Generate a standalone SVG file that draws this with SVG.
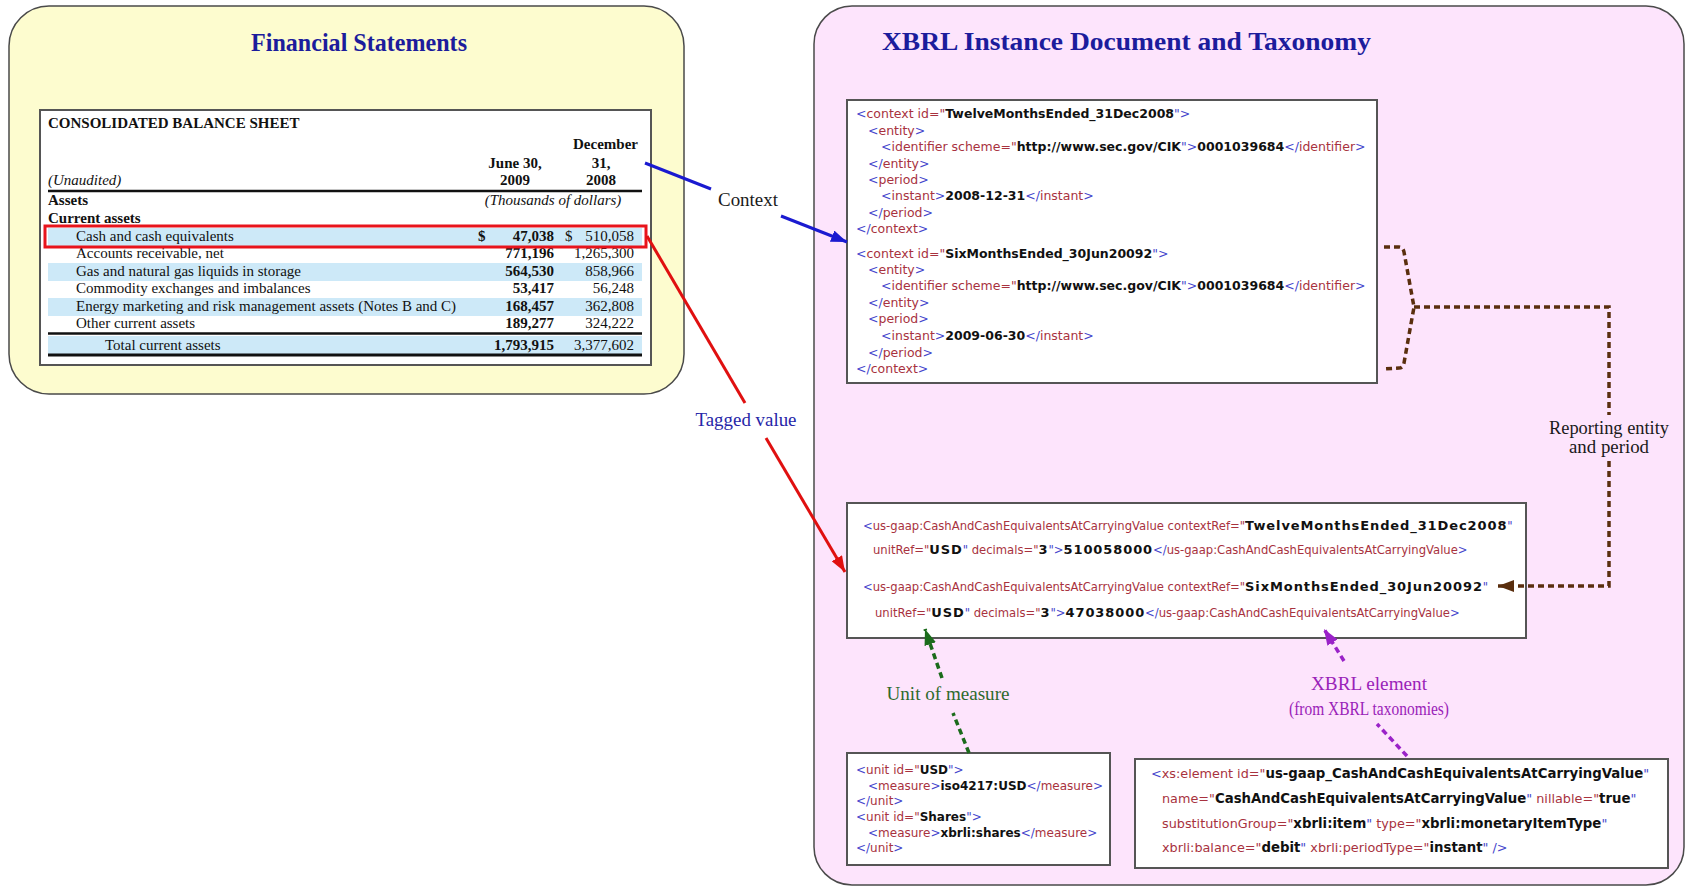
<svg xmlns="http://www.w3.org/2000/svg" width="1690" height="891" viewBox="0 0 1690 891">
  <defs>
    <style>
      .panel { stroke: #4a4a4a; stroke-width: 1.5; }
      .title { font-family: "Liberation Serif", "Times New Roman", serif; font-size: 26px; font-weight: bold; fill: #1c1c9c; }
      .box { fill: #ffffff; stroke: #555555; stroke-width: 2; }
      .tb { font-family: "Liberation Serif", "Times New Roman", serif; font-size: 15px; fill: #111111; }
      .bd { font-weight: bold; }
      .it { font-style: italic; }
      .band { fill: #cde9f8; }
      .rule { stroke: #111111; }
      .code { font-family: "DejaVu Sans", Verdana, sans-serif; font-size: 12.5px; fill: #111111; }
      .fact { font-size: 11.6px; }
      .fact .vl { font-size: 13px; letter-spacing: 0.9px; }
      .elem { font-size: 12.8px; }
      .elem .vl { font-size: 13.3px; }
      .unit { font-size: 12px; }
      .bk { fill: #4545cc; }
      .nm { fill: #a8323e; }
      .vl { fill: #111111; font-weight: bold; }
      .lbl { font-family: "Liberation Serif", "Times New Roman", serif; font-size: 19px; text-anchor: middle; }
      .solid { fill: none; stroke-width: 3; }
      .dash { fill: none; stroke-width: 3.5; stroke-dasharray: 6 4; }
    </style>
    <marker id="arrBlue" viewBox="0 0 16 12" refX="16" refY="6" markerWidth="16" markerHeight="12" markerUnits="userSpaceOnUse" orient="auto">
      <path d="M0,0 L16,6 L0,12 z" fill="#1a1ad0"/>
    </marker>
    <marker id="arrRed" viewBox="0 0 16 12" refX="16" refY="6" markerWidth="16" markerHeight="12" markerUnits="userSpaceOnUse" orient="auto">
      <path d="M0,0 L16,6 L0,12 z" fill="#e01010"/>
    </marker>
    <marker id="arrBrown" viewBox="0 0 16 12" refX="16" refY="6" markerWidth="16" markerHeight="12" markerUnits="userSpaceOnUse" orient="auto">
      <path d="M0,0 L16,6 L0,12 z" fill="#5a2e0e"/>
    </marker>
    <marker id="arrGreen" viewBox="0 0 16 12" refX="16" refY="6" markerWidth="16" markerHeight="12" markerUnits="userSpaceOnUse" orient="auto">
      <path d="M0,0 L16,6 L0,12 z" fill="#1b6b1b"/>
    </marker>
    <marker id="arrPurple" viewBox="0 0 16 12" refX="16" refY="6" markerWidth="16" markerHeight="12" markerUnits="userSpaceOnUse" orient="auto">
      <path d="M0,0 L16,6 L0,12 z" fill="#9a22c8"/>
    </marker>
  </defs>

  <rect width="1690" height="891" fill="#ffffff"/>

  <!-- Financial statements panel -->
  <g id="financial-statements">
    <rect class="panel" x="9" y="6" width="675" height="388" rx="40" fill="#fdfccf"/>
    <text class="title" x="359" y="51" text-anchor="middle" textLength="216" lengthAdjust="spacingAndGlyphs">Financial Statements</text>
  </g>

  <!-- Balance sheet table -->
  <g id="balance-sheet">
    <rect class="box" x="40" y="110" width="611" height="255"/>
    <rect class="band" x="48" y="228" width="594" height="18"/>
    <rect class="band" x="48" y="263" width="594" height="18"/>
    <rect class="band" x="48" y="298" width="594" height="18"/>
    <rect class="band" x="48" y="336" width="594" height="18"/>
    <line class="rule" x1="48" y1="191" x2="642" y2="191" stroke-width="2.5"/>
    <line class="rule" x1="48" y1="333.5" x2="642" y2="333.5" stroke-width="2.5"/>
    <line class="rule" x1="48" y1="355" x2="642" y2="355" stroke-width="3"/>

    <text class="tb bd" x="48" y="128">CONSOLIDATED BALANCE SHEET</text>
    <text class="tb bd" x="638" y="149" text-anchor="end">December</text>
    <text class="tb bd" x="515" y="168" text-anchor="middle">June 30,</text>
    <text class="tb bd" x="601" y="168" text-anchor="middle">31,</text>
    <text class="tb it" x="48" y="185">(Unaudited)</text>
    <text class="tb bd" x="515" y="185" text-anchor="middle">2009</text>
    <text class="tb bd" x="601" y="185" text-anchor="middle">2008</text>
    <text class="tb bd" x="48" y="205">Assets</text>
    <text class="tb it" x="553" y="205" text-anchor="middle">(Thousands of dollars)</text>
    <text class="tb bd" x="48" y="223">Current assets</text>

    <text class="tb" x="76" y="241">Cash and cash equivalents</text>
    <text class="tb bd" x="478" y="241">$</text>
    <text class="tb bd" x="554" y="241" text-anchor="end">47,038</text>
    <text class="tb" x="565" y="241">$</text>
    <text class="tb" x="634" y="241" text-anchor="end">510,058</text>

    <text class="tb" x="76" y="258">Accounts receivable, net</text>
    <text class="tb bd" x="554" y="258" text-anchor="end">771,196</text>
    <text class="tb" x="634" y="258" text-anchor="end">1,265,300</text>

    <text class="tb" x="76" y="276">Gas and natural gas liquids in storage</text>
    <text class="tb bd" x="554" y="276" text-anchor="end">564,530</text>
    <text class="tb" x="634" y="276" text-anchor="end">858,966</text>

    <text class="tb" x="76" y="293">Commodity exchanges and imbalances</text>
    <text class="tb bd" x="554" y="293" text-anchor="end">53,417</text>
    <text class="tb" x="634" y="293" text-anchor="end">56,248</text>

    <text class="tb" x="76" y="311">Energy marketing and risk management assets (Notes B and C)</text>
    <text class="tb bd" x="554" y="311" text-anchor="end">168,457</text>
    <text class="tb" x="634" y="311" text-anchor="end">362,808</text>

    <text class="tb" x="76" y="328">Other current assets</text>
    <text class="tb bd" x="554" y="328" text-anchor="end">189,277</text>
    <text class="tb" x="634" y="328" text-anchor="end">324,222</text>

    <text class="tb" x="105" y="350">Total current assets</text>
    <text class="tb bd" x="554" y="350" text-anchor="end">1,793,915</text>
    <text class="tb" x="634" y="350" text-anchor="end">3,377,602</text>

    <rect x="45" y="226" width="601" height="21" fill="none" stroke="#e8141c" stroke-width="3"/>
  </g>

  <!-- XBRL panel -->
  <g id="xbrl-panel">
    <rect class="panel" x="814" y="6" width="870" height="879" rx="38" fill="#fde4fc"/>
    <text class="title" x="882" y="50" textLength="489" lengthAdjust="spacingAndGlyphs">XBRL Instance Document and Taxonomy</text>
  </g>

  <!-- Context definitions -->
  <g id="contexts">
    <rect class="box" x="847" y="100" width="530" height="283"/>
    <text class="code" x="856" y="118"><tspan class="bk">&lt;</tspan><tspan class="nm">context id="</tspan><tspan class="vl">TwelveMonthsEnded_31Dec2008</tspan><tspan class="bk">"&gt;</tspan></text>
    <text class="code" x="868" y="135"><tspan class="bk">&lt;</tspan><tspan class="nm">entity</tspan><tspan class="bk">&gt;</tspan></text>
    <text class="code" x="881" y="151"><tspan class="bk">&lt;</tspan><tspan class="nm">identifier scheme="</tspan><tspan class="vl">http://www.sec.gov/CIK</tspan><tspan class="bk">"&gt;</tspan><tspan class="vl">0001039684</tspan><tspan class="bk">&lt;/</tspan><tspan class="nm">identifier</tspan><tspan class="bk">&gt;</tspan></text>
    <text class="code" x="868" y="168"><tspan class="bk">&lt;/</tspan><tspan class="nm">entity</tspan><tspan class="bk">&gt;</tspan></text>
    <text class="code" x="868" y="184"><tspan class="bk">&lt;</tspan><tspan class="nm">period</tspan><tspan class="bk">&gt;</tspan></text>
    <text class="code" x="881" y="200"><tspan class="bk">&lt;</tspan><tspan class="nm">instant</tspan><tspan class="bk">&gt;</tspan><tspan class="vl">2008-12-31</tspan><tspan class="bk">&lt;/</tspan><tspan class="nm">instant</tspan><tspan class="bk">&gt;</tspan></text>
    <text class="code" x="868" y="217"><tspan class="bk">&lt;/</tspan><tspan class="nm">period</tspan><tspan class="bk">&gt;</tspan></text>
    <text class="code" x="856" y="233"><tspan class="bk">&lt;/</tspan><tspan class="nm">context</tspan><tspan class="bk">&gt;</tspan></text>
    <text class="code" x="856" y="258"><tspan class="bk">&lt;</tspan><tspan class="nm">context id="</tspan><tspan class="vl">SixMonthsEnded_30Jun20092</tspan><tspan class="bk">"&gt;</tspan></text>
    <text class="code" x="868" y="274"><tspan class="bk">&lt;</tspan><tspan class="nm">entity</tspan><tspan class="bk">&gt;</tspan></text>
    <text class="code" x="881" y="290"><tspan class="bk">&lt;</tspan><tspan class="nm">identifier scheme="</tspan><tspan class="vl">http://www.sec.gov/CIK</tspan><tspan class="bk">"&gt;</tspan><tspan class="vl">0001039684</tspan><tspan class="bk">&lt;/</tspan><tspan class="nm">identifier</tspan><tspan class="bk">&gt;</tspan></text>
    <text class="code" x="868" y="307"><tspan class="bk">&lt;/</tspan><tspan class="nm">entity</tspan><tspan class="bk">&gt;</tspan></text>
    <text class="code" x="868" y="323"><tspan class="bk">&lt;</tspan><tspan class="nm">period</tspan><tspan class="bk">&gt;</tspan></text>
    <text class="code" x="881" y="340"><tspan class="bk">&lt;</tspan><tspan class="nm">instant</tspan><tspan class="bk">&gt;</tspan><tspan class="vl">2009-06-30</tspan><tspan class="bk">&lt;/</tspan><tspan class="nm">instant</tspan><tspan class="bk">&gt;</tspan></text>
    <text class="code" x="868" y="357"><tspan class="bk">&lt;/</tspan><tspan class="nm">period</tspan><tspan class="bk">&gt;</tspan></text>
    <text class="code" x="856" y="373"><tspan class="bk">&lt;/</tspan><tspan class="nm">context</tspan><tspan class="bk">&gt;</tspan></text>
  </g>

  <!-- Tagged facts -->
  <g id="facts">
    <rect class="box" x="847" y="503" width="679" height="135"/>
    <text class="code fact" x="863" y="530"><tspan class="bk">&lt;</tspan><tspan class="nm">us-gaap:CashAndCashEquivalentsAtCarryingValue contextRef="</tspan><tspan class="vl">TwelveMonthsEnded_31Dec2008</tspan><tspan class="bk">"</tspan></text>
    <text class="code fact" x="873" y="554"><tspan class="nm">unitRef="</tspan><tspan class="vl">USD</tspan><tspan class="bk">"</tspan><tspan class="nm"> decimals="</tspan><tspan class="vl">3</tspan><tspan class="bk">"&gt;</tspan><tspan class="vl">510058000</tspan><tspan class="bk">&lt;/</tspan><tspan class="nm">us-gaap:CashAndCashEquivalentsAtCarryingValue</tspan><tspan class="bk">&gt;</tspan></text>
    <text class="code fact" x="863" y="591"><tspan class="bk">&lt;</tspan><tspan class="nm">us-gaap:CashAndCashEquivalentsAtCarryingValue contextRef="</tspan><tspan class="vl">SixMonthsEnded_30Jun20092</tspan><tspan class="bk">"</tspan></text>
    <text class="code fact" x="875" y="617"><tspan class="nm">unitRef="</tspan><tspan class="vl">USD</tspan><tspan class="bk">"</tspan><tspan class="nm"> decimals="</tspan><tspan class="vl">3</tspan><tspan class="bk">"&gt;</tspan><tspan class="vl">47038000</tspan><tspan class="bk">&lt;/</tspan><tspan class="nm">us-gaap:CashAndCashEquivalentsAtCarryingValue</tspan><tspan class="bk">&gt;</tspan></text>
  </g>

  <!-- Units -->
  <g id="units">
    <rect class="box" x="847" y="753" width="263" height="112"/>
    <text class="code unit" x="856" y="774"><tspan class="bk">&lt;</tspan><tspan class="nm">unit id="</tspan><tspan class="vl">USD</tspan><tspan class="bk">"&gt;</tspan></text>
    <text class="code unit" x="868" y="790"><tspan class="bk">&lt;</tspan><tspan class="nm">measure</tspan><tspan class="bk">&gt;</tspan><tspan class="vl">iso4217:USD</tspan><tspan class="bk">&lt;/</tspan><tspan class="nm">measure</tspan><tspan class="bk">&gt;</tspan></text>
    <text class="code unit" x="856" y="805"><tspan class="bk">&lt;/</tspan><tspan class="nm">unit</tspan><tspan class="bk">&gt;</tspan></text>
    <text class="code unit" x="856" y="821"><tspan class="bk">&lt;</tspan><tspan class="nm">unit id="</tspan><tspan class="vl">Shares</tspan><tspan class="bk">"&gt;</tspan></text>
    <text class="code unit" x="868" y="837"><tspan class="bk">&lt;</tspan><tspan class="nm">measure</tspan><tspan class="bk">&gt;</tspan><tspan class="vl">xbrli:shares</tspan><tspan class="bk">&lt;/</tspan><tspan class="nm">measure</tspan><tspan class="bk">&gt;</tspan></text>
    <text class="code unit" x="856" y="852"><tspan class="bk">&lt;/</tspan><tspan class="nm">unit</tspan><tspan class="bk">&gt;</tspan></text>
  </g>

  <!-- Taxonomy element definition -->
  <g id="element">
    <rect class="box" x="1135" y="759" width="533" height="109"/>
    <text class="code elem" x="1151" y="778"><tspan class="bk">&lt;</tspan><tspan class="nm">xs:element id="</tspan><tspan class="vl">us-gaap_CashAndCashEquivalentsAtCarryingValue</tspan><tspan class="bk">"</tspan></text>
    <text class="code elem" x="1162" y="803"><tspan class="nm">name="</tspan><tspan class="vl">CashAndCashEquivalentsAtCarryingValue</tspan><tspan class="bk">"</tspan><tspan class="nm"> nillable="</tspan><tspan class="vl">true</tspan><tspan class="bk">"</tspan></text>
    <text class="code elem" x="1162" y="828"><tspan class="nm">substitutionGroup="</tspan><tspan class="vl">xbrli:item</tspan><tspan class="bk">"</tspan><tspan class="nm"> type="</tspan><tspan class="vl">xbrli:monetaryItemType</tspan><tspan class="bk">"</tspan></text>
    <text class="code elem" x="1162" y="852"><tspan class="nm">xbrli:balance="</tspan><tspan class="vl">debit</tspan><tspan class="bk">"</tspan><tspan class="nm"> xbrli:periodType="</tspan><tspan class="vl">instant</tspan><tspan class="bk">" /&gt;</tspan></text>
  </g>

  <!-- Connectors -->
  <g id="connectors">
    <line class="solid" x1="645" y1="163" x2="711" y2="189" stroke="#1a1ad0"/>
    <line class="solid" x1="781" y1="216" x2="847" y2="242" stroke="#1a1ad0" marker-end="url(#arrBlue)"/>

    <line class="solid" x1="647" y1="236" x2="745" y2="403" stroke="#e01010"/>
    <line class="solid" x1="766" y1="438" x2="845" y2="572" stroke="#e01010" marker-end="url(#arrRed)"/>

    <path class="dash" d="M1384,247 L1399,247 Q1403,247 1404,252 L1414,307 L1404,363 Q1403,368 1399,368 L1384,369" stroke="#5a2e0e"/>
    <path class="dash" d="M1414,307 L1609,307 L1609,415" stroke="#5a2e0e"/>
    <path class="dash" d="M1609,461 L1609,586 L1498,586" stroke="#5a2e0e" marker-end="url(#arrBrown)"/>

    <path class="dash" d="M969,753 L953,713" stroke="#1b6b1b"/>
    <path class="dash" d="M942,678 L925,629" stroke="#1b6b1b" marker-end="url(#arrGreen)"/>

    <path class="dash" d="M1407,756 L1377,724" stroke="#9a22c8"/>
    <path class="dash" d="M1344,661 L1324,629" stroke="#9a22c8" marker-end="url(#arrPurple)"/>

    <text class="lbl" x="748" y="206" fill="#1a1a1a" textLength="60" lengthAdjust="spacingAndGlyphs">Context</text>
    <text class="lbl" x="746" y="426" fill="#2626a8" textLength="101" lengthAdjust="spacingAndGlyphs">Tagged value</text>
    <text class="lbl" x="1609" y="434" fill="#1a1a1a" textLength="120" lengthAdjust="spacingAndGlyphs">Reporting entity</text>
    <text class="lbl" x="1609" y="453" fill="#1a1a1a" textLength="80" lengthAdjust="spacingAndGlyphs">and period</text>
    <text class="lbl" x="948" y="700" fill="#2d6a2d" textLength="123" lengthAdjust="spacingAndGlyphs">Unit of measure</text>
    <text class="lbl" x="1369" y="690" fill="#9a22b8" textLength="116" lengthAdjust="spacingAndGlyphs">XBRL element</text>
    <text class="lbl" x="1369" y="715" fill="#9a22b8" font-size="18" textLength="160" lengthAdjust="spacingAndGlyphs">(from XBRL taxonomies)</text>
  </g>
</svg>
